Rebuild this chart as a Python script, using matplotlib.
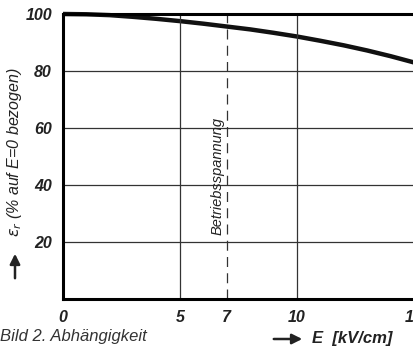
import matplotlib
matplotlib.use("Agg")
import matplotlib.pyplot as plt

# Relative permittivity vs. field strength
feld = [0, 1, 2, 3, 4, 5, 6, 7, 8, 9, 10, 11, 12, 13, 14, 15]
eps_r = [100, 99.9, 99.6, 99.0, 98.3, 97.5, 96.6, 95.6, 94.6, 93.4, 92.1, 90.6, 89.0, 87.2, 85.2, 83.0]
betrieb = 7
x_ticks = [0, 5, 7, 10, 15]
y_ticks = [20, 40, 60, 80, 100]

plt.rcParams["font.family"] = ["Liberation Sans", "DejaVu Sans"]

fig = plt.figure(figsize=(4.13, 3.47), dpi=100)
ax = fig.add_axes([63 / 413, 48 / 347, 351 / 413, 285 / 347])

ax.plot(feld, eps_r, color="#111111", lw=3.2, solid_capstyle="butt", clip_on=False)

# Raster
for x in [5, 10]:
    ax.axvline(x, color="#333333", lw=0.9)
for y in [20, 40, 60, 80]:
    ax.axhline(y, color="#333333", lw=0.9)
ax.axvline(betrieb, color="#333333", lw=0.9, ls=(0, (8, 5)))
ax.text(betrieb - 0.4, 43, "Betriebsspannung", rotation=90, ha="center", va="center",
        fontsize=10.5, style="italic", color="#222222")

ax.set_xlim(0, 15)
ax.set_ylim(0, 100)
for s in ["left", "bottom", "top"]:
    ax.spines[s].set_linewidth(2.2)
ax.spines["right"].set_visible(False)

ax.set_xticks(x_ticks)
ax.set_xticklabels([str(v) for v in x_ticks], style="italic", fontsize=11.5, weight="bold")
ax.set_yticks(y_ticks)
ax.set_yticklabels([str(v) for v in y_ticks], style="italic", fontsize=11.5, weight="bold")
ax.tick_params(length=0, pad=8, colors="#222222")

# Achsenbeschriftung mit Pfeilen
arrow = dict(arrowstyle="-|>,head_length=0.6,head_width=0.3", lw=1.8, color="#222222")
ax.annotate("", xy=(15 / 413, 1 - 251 / 347), xytext=(15 / 413, 1 - 281 / 347),
            xycoords="figure fraction", arrowprops=arrow)
ax.annotate("", xy=(305 / 413, 1 - 339 / 347), xytext=(271 / 413, 1 - 339 / 347),
            xycoords="figure fraction", arrowprops=arrow)
fig.text(15 / 413, 1 - 152 / 347, r"$\varepsilon_r$ (% auf E=0 bezogen)", rotation=90,
         ha="center", va="center", style="italic", fontsize=11.5, color="#222222")
fig.text(312 / 413, 1 - 338 / 347, "E  [kV/cm]", ha="left", va="center",
         style="italic", fontsize=12, weight="bold", color="#222222")
fig.text(0, 1 - 337 / 347, "Bild 2. Abhängigkeit", ha="left", va="center",
         style="italic", fontsize=12, color="#333333")

fig.savefig("out.png", dpi=100)
